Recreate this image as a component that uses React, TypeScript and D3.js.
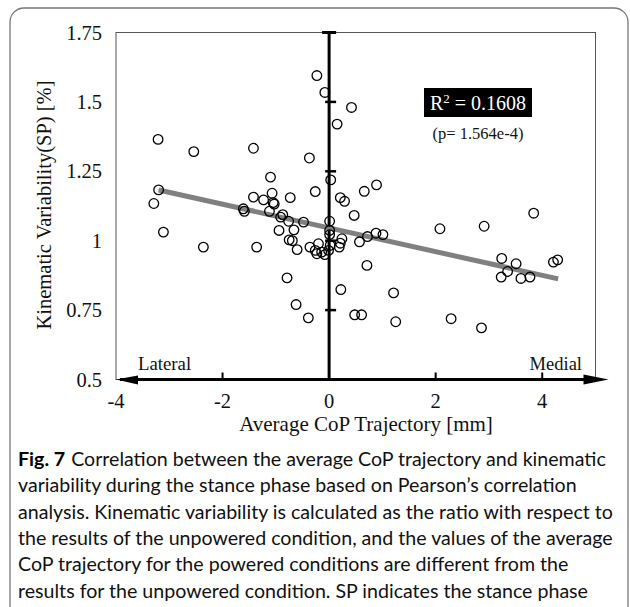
import React from 'react';
import * as d3 from 'd3';

// average CoP trajectory [mm] vs kinematic variability ratio
const copX = [
  -0.23, -0.08, 0.42, 0.15, -3.21, -2.54, -1.42, -0.37, -1.10, -0.26,
  0.03, -3.20, -3.29, -1.42, -1.23, -1.07, -1.05, -1.03, -0.73, 0.21,
  0.29, 0.66, 0.89, 0.47, -1.61, -1.59, -1.12, -0.87, -0.91, -0.76,
  -0.48, 0.01, -0.94, -0.66, 0.01, 0.01, -0.75, -0.69, -0.60, -1.36,
  -2.36, -3.11, -0.36, -0.20, -0.26, -0.14, -0.08, -0.01, 0.02, -0.23,
  0.19, 0.24, 0.21, 0.57, 0.72, 0.88, 1.01, 0.71, 0.22, 0.48,
  0.61, 1.21, 1.25, 2.08, 2.91, 3.84, 2.29, 2.86, 3.24, 3.51,
  3.35, 3.23, 3.60, 3.77, 4.21, 4.29, -0.79, -0.62, -0.39,
];
const variability = [
  1.595, 1.534, 1.48, 1.42, 1.365, 1.321, 1.333, 1.298, 1.229, 1.177,
  1.219, 1.183, 1.134, 1.157, 1.147, 1.171, 1.137, 1.132, 1.155, 1.155,
  1.142, 1.178, 1.201, 1.091, 1.115, 1.106, 1.106, 1.094, 1.085, 1.070,
  1.067, 1.070, 1.037, 1.039, 1.037, 1.022, 1.003, 1.000, 0.968, 0.977,
  0.977, 1.031, 0.977, 0.989, 0.965, 0.959, 0.950, 0.965, 0.983, 0.953,
  0.977, 1.007, 0.991, 0.996, 1.015, 1.027, 1.022, 0.911, 0.824, 0.733,
  0.733, 0.812, 0.708, 1.043, 1.052, 1.099, 0.719, 0.686, 0.936, 0.917,
  0.889, 0.869, 0.864, 0.869, 0.923, 0.931, 0.866, 0.770, 0.722,
];
const xTicks = [-4, -2, 0, 2, 4];
const yTicks = [0.5, 0.75, 1, 1.25, 1.5, 1.75];
const trendRange = [-3.2, 4.3];
const trendSlope = -0.0427;
const trendIntercept = 1.046;

const caption = [
  'Correlation between the average CoP trajectory and kinematic',
  'variability during the stance phase based on Pearson’s correlation',
  'analysis. Kinematic variability is calculated as the ratio with respect to',
  'the results of the unpowered condition, and the values of the average',
  'CoP trajectory for the powered conditions are different from the',
  'results for the unpowered condition. SP indicates the stance phase',
];

const serif = '"Liberation Serif", serif';
const sans = 'Lato, "Open Sans", sans-serif';

export default function App() {
  const x = d3.scaleLinear().domain([-4, 5]).range([116, 595.5]);
  const y = d3.scaleLinear().domain([0.5, 1.75]).range([379.5, 32.5]);
  const pts = copX.map((v, i) => [v, variability[i]]);
  const trend = d3.line<number>()
    .x((d) => x(d))
    .y((d) => y(trendIntercept + trendSlope * d))(trendRange);
  const x0 = x(0);
  const yBase = y(0.5);

  return (
    <svg width={630} height={607} style={{position: 'absolute', left: 0, top: 0, background: '#fff'}}>
      <rect x={10} y={8} width={618} height={640} rx={14} fill="none" stroke="#777" strokeWidth={1.3} />

      {/* plot frame */}
      <rect x={x(-4)} y={y(1.75)} width={x(5) - x(-4)} height={yBase - y(1.75)} fill="none" stroke="#555" strokeWidth={1} />

      {/* y tick labels */}
      {yTicks.map((t) => (
        <text key={t} x={102} y={y(t)} dy="0.35em" textAnchor="end" fontFamily={serif} fontSize={20.5} fill="#111">
          {t}
        </text>
      ))}
      <text transform="translate(44,205) rotate(-90)" textAnchor="middle" dy="0.35em" fontFamily={serif} fontSize={20.5} fill="#111">
        Kinematic Variability(SP) [%]
      </text>

      {/* central y axis */}
      <line x1={x0} x2={x0} y1={y(1.75)} y2={yBase} stroke="#000" strokeWidth={3} />
      <line x1={x0 - 7} x2={x0 + 7} y1={y(1.75)} y2={y(1.75)} stroke="#000" strokeWidth={3} />
      {yTicks.slice(1, -1).map((t) => (
        <line key={t} x1={x0 - 4} x2={x0 + 7} y1={y(t)} y2={y(t)} stroke="#000" strokeWidth={2.5} />
      ))}

      {/* trend line */}
      <path d={trend ?? ''} fill="none" stroke="#808080" strokeWidth={5} />

      {/* points */}
      {pts.map((p, i) => (
        <circle key={i} cx={x(p[0])} cy={y(p[1])} r={4.8} fill="none" stroke="#000" strokeWidth={1.3} />
      ))}

      {/* bottom axis with arrows */}
      <line x1={x(-4) + 4} x2={x(5) + 2} y1={yBase} y2={yBase} stroke="#000" strokeWidth={3} />
      <path d={`M${x(-4)},${yBase} L${x(-4) + 22},${yBase - 4} L${x(-4) + 22},${yBase + 5} Z`} fill="#000" />
      <path d={`M${x(5) + 13},${yBase} L${x(5) - 12},${yBase - 5} L${x(5) - 12},${yBase + 5} Z`} fill="#000" />
      {xTicks.filter((t) => t !== 0 && t !== -4).map((t) => (
        <line key={t} x1={x(t)} x2={x(t)} y1={yBase - 7} y2={yBase} stroke="#000" strokeWidth={2} />
      ))}
      {xTicks.map((t) => (
        <text key={t} x={x(t)} y={401} dy="0.35em" textAnchor="middle" fontFamily={serif} fontSize={20.5} fill="#111">
          {t}
        </text>
      ))}
      <text x={366} y={424} dy="0.35em" textAnchor="middle" fontFamily={serif} fontSize={21} fill="#111">
        Average CoP Trajectory [mm]
      </text>
      <text x={138} y={370} fontFamily={serif} fontSize={18.8} fill="#111">Lateral</text>
      <text x={582} y={370} textAnchor="end" fontFamily={serif} fontSize={18.5} fill="#111">Medial</text>

      {/* R squared annotation */}
      <rect x={424} y={88} width={108} height={29} fill="#000" />
      <text x={478} y={103} dy="0.35em" textAnchor="middle" fontFamily={serif} fontSize={20} fill="#fff">
        R<tspan dy="-7" fontSize={13}>2</tspan><tspan dy="7"> = 0.1608</tspan>
      </text>
      <text x={478} y={133} dy="0.35em" textAnchor="middle" fontFamily={serif} fontSize={16.5} fill="#111">
        (p= 1.564e-4)
      </text>

      {/* caption */}
      {caption.map((line, i) => (
        <text key={i} x={18} y={466 + i * 26.3} fontFamily={sans} fontSize={19.6} fill="#111">
          {i === 0 ? <tspan fontWeight="bold" fill="#000">Fig. 7</tspan> : null}
          {i === 0 ? <tspan dx={6}>{line}</tspan> : line}
        </text>
      ))}
    </svg>
  );
}
